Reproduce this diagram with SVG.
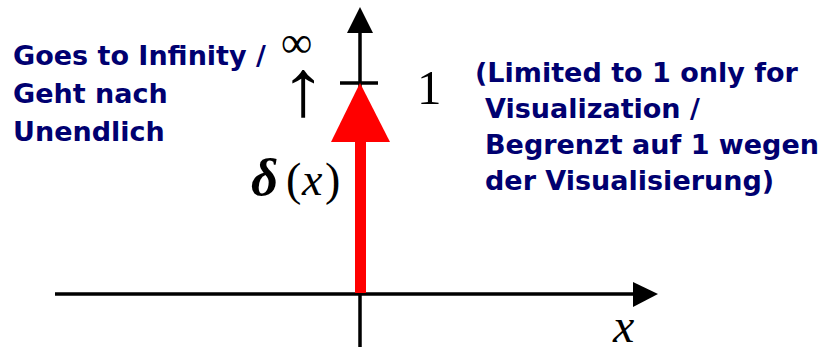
<svg xmlns="http://www.w3.org/2000/svg" width="825" height="350" viewBox="0 0 825 350">
<style>
.lbl{font-family:"DejaVu Sans",Verdana,sans-serif;font-weight:bold;font-size:27px;fill:#000070}
.math{font-family:"Liberation Serif","Times New Roman",serif;fill:#000}
.ax{stroke:#000;stroke-width:3.5;fill:none}
</style>
<rect width="825" height="350" fill="#fff"/>
<g id="connectors">
  <line class="ax" x1="55" y1="294" x2="636" y2="294"/>
  <polygon points="633,282 658,294 633,307" fill="#000"/>
  <line class="ax" x1="360" y1="347" x2="360" y2="30"/>
  <polygon points="347,33 360,7 373,33" fill="#000"/>
  <line class="ax" x1="340" y1="83" x2="378" y2="83"/>
  <rect x="355" y="138" width="11" height="155" fill="#ff0000"/>
  <polygon points="331,142 360,83 390,142" fill="#ff0000"/>
</g>
<g id="left-label">
  <text class="lbl" x="13" y="65">Goes to Infinity /</text>
  <text class="lbl" x="13" y="103">Geht nach</text>
  <text class="lbl" x="13" y="141">Unendlich</text>
</g>
<g id="infinity">
  <text class="math" x="281" y="57" font-size="44">∞</text>
  <text class="math" transform="translate(280,115) scale(1.1,0.96)" x="0" y="0" font-size="84">↑</text>
</g>
<g id="one">
  <text class="math" x="417" y="104" font-size="49">1</text>
</g>
<g id="right-label">
  <text class="lbl" x="475" y="82">(Limited to 1 only for</text>
  <text class="lbl" x="485" y="118">Visualization /</text>
  <text class="lbl" x="485" y="154">Begrenzt auf 1 wegen</text>
  <text class="lbl" x="485" y="190">der Visualisierung)</text>
</g>
<g id="delta">
  <text class="math" y="195" font-size="46"><tspan x="251" font-style="italic" font-weight="bold" font-size="53">δ</tspan><tspan x="286">(</tspan><tspan x="302" font-style="italic">x</tspan><tspan x="325">)</tspan></text>
</g>
<g id="x-label">
  <text class="math" x="613" y="342" font-size="48" font-style="italic">x</text>
</g>
</svg>
